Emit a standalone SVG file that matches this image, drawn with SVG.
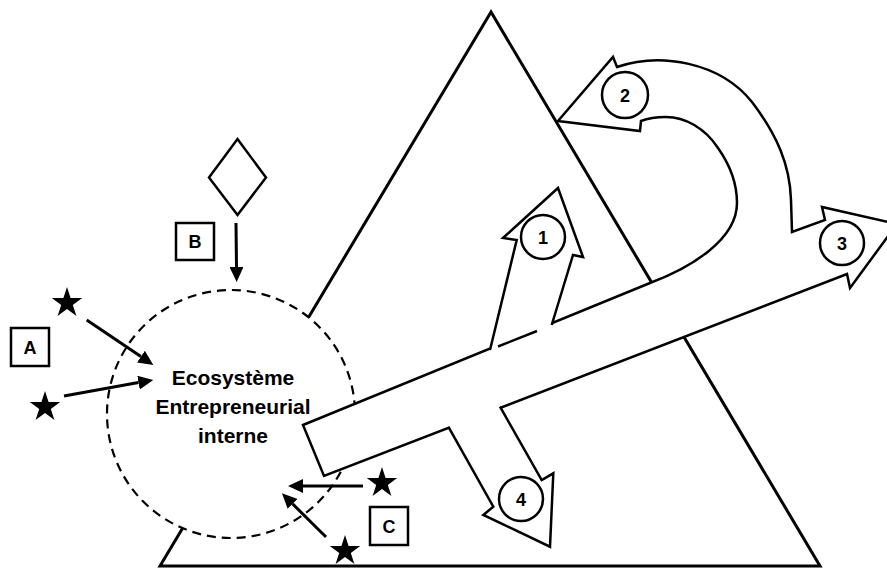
<svg xmlns="http://www.w3.org/2000/svg" width="887" height="568" viewBox="0 0 887 568">
<style>
.shape{fill:#fff;stroke:#000;stroke-width:2.5;stroke-linejoin:miter}
.line{fill:none;stroke:#000;stroke-width:2.5}
.num{font-family:"Liberation Sans",Arial,sans-serif;font-weight:bold;font-size:18px;text-anchor:middle}
.lab{font-family:"Liberation Sans",Arial,sans-serif;font-weight:bold;font-size:18px;text-anchor:middle}
.eco{font-family:"Liberation Sans",Arial,sans-serif;font-weight:bold;font-size:21px;text-anchor:middle}
.conn{fill:none;stroke:#000;stroke-width:3;marker-end:url(#ah)}
</style>
<defs>
<marker id="ah" markerUnits="userSpaceOnUse" markerWidth="16" markerHeight="14" refX="0" refY="7" orient="auto"><path d="M0,0 L15,7 L0,14 Z" fill="#000"/></marker>
<path id="star" d="M0,-16 L3.59,-4.94 L15.22,-4.94 L5.8,1.89 L9.4,12.94 L0,6.1 L-9.4,12.94 L-5.8,1.89 L-15.22,-4.94 L-3.59,-4.94 Z" fill="#000"/>
</defs>
<rect width="887" height="568" fill="#fff"/>
<g id="triangle"><polygon points="491,12 160,566 820,566" fill="#fff" stroke="#000" stroke-width="3"/></g>
<g id="ecosystem">
<circle cx="231" cy="414" r="124" fill="#fff" stroke="#000" stroke-width="2.2" stroke-dasharray="9 6"/>
</g>
<g id="main-arrow">
<path class="shape" d="M303,425 L650,283 C690,268 737,240 737,203 C737,185 730,165 718,148 C705,128 685,117 666,117 C655,117 646,119 641,121 L640,131 L558,121 L613,57 L617,67 C660,52 720,62 752,102 C777,135 790,165 791,200 L792,232 L825,220 L822,207 L897,224 L850,288 L847,274 L324,476 Z"/>
</g>
<g id="arrow1">
<polygon points="490,350 516.7,240 503,238 558,188 583,257 573,255 551.7,325 554,332 492,357" fill="#fff"/>
<polyline class="line" points="490,350 516.7,240 503,238 558,188 583,257 573,255 551.7,325"/>
<line class="line" x1="498" y1="346.5" x2="537" y2="331"/>
</g>
<g id="arrow4">
<polygon points="448.3,426.7 493.3,506.7 483.3,515 550,546.7 553.3,473.3 541.7,480 500,406.7 498,400 446,420" fill="#fff"/>
<polyline class="line" points="448.3,426.7 493.3,506.7 483.3,515 550,546.7 553.3,473.3 541.7,480 500,406.7"/>
</g>
<g id="n1"><circle class="shape" cx="543" cy="237" r="22"/><text class="num" x="543" y="243.5">1</text></g>
<g id="n2"><circle class="shape" cx="625" cy="95" r="23"/><text class="num" x="625" y="101.5">2</text></g>
<g id="n3"><circle class="shape" cx="842" cy="243" r="22"/><text class="num" x="842" y="249.5">3</text></g>
<g id="n4"><circle class="shape" cx="521" cy="499" r="22"/><text class="num" x="521" y="505.5">4</text></g>
<g id="eco-label">
<text class="eco" x="233" y="385">Ecosystème</text>
<text class="eco" x="233" y="414">Entrepreneurial</text>
<text class="eco" x="233" y="443">interne</text>
</g>
<g id="diamond"><polygon class="shape" points="237.5,139 266,177.5 237.5,215 209,177.5"/></g>
<g id="boxA"><rect class="shape" x="11" y="328" width="38" height="38"/><text class="lab" x="30" y="353.5">A</text></g>
<g id="boxB"><rect class="shape" x="176" y="223" width="38" height="37"/><text class="lab" x="195" y="248">B</text></g>
<g id="boxC"><rect class="shape" x="370" y="507" width="38" height="38"/><text class="lab" x="389" y="532.5">C</text></g>
<g id="stars">
<use href="#star" x="67" y="303"/>
<use href="#star" x="45" y="407"/>
<use href="#star" x="382" y="483"/>
<use href="#star" x="345" y="551"/>
</g>
<g id="connectors">
<line class="conn" x1="86.7" y1="320" x2="140.9" y2="356.6"/>
<line class="conn" x1="64" y1="396" x2="138.5" y2="382.6"/>
<line class="conn" x1="236" y1="223" x2="236.5" y2="267"/>
<line class="conn" x1="363" y1="486" x2="303" y2="486"/>
<line class="conn" x1="326" y1="537" x2="292.6" y2="503.9"/>
</g>
</svg>
